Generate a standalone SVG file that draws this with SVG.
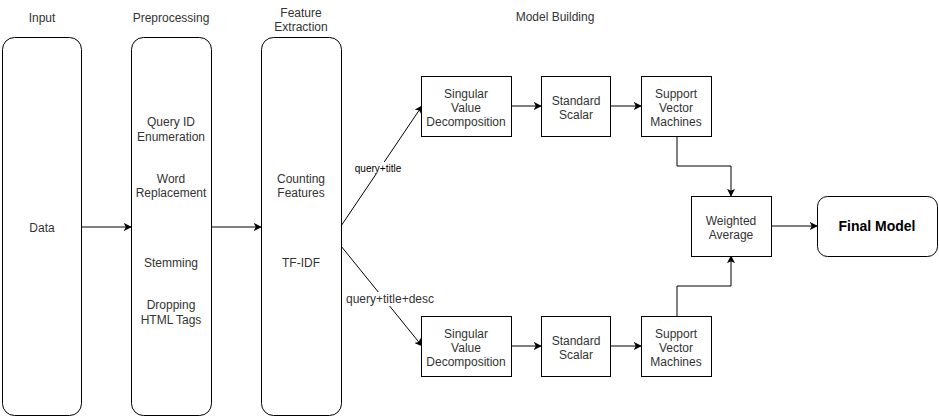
<svg xmlns="http://www.w3.org/2000/svg" width="939" height="418" viewBox="0 0 939 418">
<style>
text{font-family:"Liberation Sans",Arial,sans-serif;font-size:12px;fill:#333;text-anchor:middle}
.box{fill:#fff;stroke:#000;stroke-width:1}
.edge{fill:none;stroke:#000;stroke-width:1}
.lbl{font-size:10px;fill:#000}
.lbl2{font-size:12px;fill:#333}
.bold{font-weight:bold;font-size:14px;fill:#000}
</style>
<defs>
<marker id="arr" viewBox="0 0 10 10" refX="9" refY="5" markerWidth="8" markerHeight="8" markerUnits="userSpaceOnUse" orient="auto">
<path d="M0,0 L10,5 L0,10 L2.5,5 Z" fill="#000"/>
</marker>
</defs>
<rect width="939" height="418" fill="#fff"/>
<g id="headers">
<text x="42" y="22">Input</text>
<text x="171" y="22">Preprocessing</text>
<text x="301" y="17">Feature</text>
<text x="301" y="31">Extraction</text>
<text x="555" y="21">Model Building</text>
</g>
<g id="connectors">
<line class="edge" x1="81" y1="227" x2="131" y2="227" marker-end="url(#arr)"/>
<line class="edge" x1="211" y1="227" x2="261" y2="227" marker-end="url(#arr)"/>
<line class="edge" x1="341" y1="226" x2="422" y2="106" marker-end="url(#arr)"/>
<line class="edge" x1="341" y1="246" x2="422" y2="346" marker-end="url(#arr)"/>
<line class="edge" x1="511" y1="106" x2="541" y2="106" marker-end="url(#arr)"/>
<line class="edge" x1="610" y1="106" x2="641" y2="106" marker-end="url(#arr)"/>
<line class="edge" x1="511" y1="346" x2="541" y2="346" marker-end="url(#arr)"/>
<line class="edge" x1="610" y1="346" x2="641" y2="346" marker-end="url(#arr)"/>
<polyline class="edge" points="677,136 677,166 731,166 731,196" marker-end="url(#arr)"/>
<polyline class="edge" points="677,316 677,286 731,286 731,256" marker-end="url(#arr)"/>
<line class="edge" x1="771" y1="226" x2="817" y2="226" marker-end="url(#arr)"/>
<rect x="355" y="162" width="46" height="12" fill="#fff"/>
<text class="lbl" x="378" y="172">query+title</text>
<rect x="345" y="292" width="90" height="14" fill="#fff"/>
<text class="lbl2" x="390" y="303">query+title+desc</text>
</g>
<g id="input">
<rect class="box" x="2.5" y="37.5" width="79" height="378" rx="12"/>
<text x="42" y="232">Data</text>
</g>
<g id="preprocessing">
<rect class="box" x="131.5" y="37.5" width="80" height="378" rx="12"/>
<text x="171" y="126">Query ID</text>
<text x="171" y="141">Enumeration</text>
<text x="171" y="183">Word</text>
<text x="171" y="197">Replacement</text>
<text x="171" y="267">Stemming</text>
<text x="171" y="309">Dropping</text>
<text x="171" y="324">HTML Tags</text>
</g>
<g id="feature">
<rect class="box" x="261.5" y="37.5" width="80" height="378" rx="12"/>
<text x="301" y="183">Counting</text>
<text x="301" y="197">Features</text>
<text x="301" y="267">TF-IDF</text>
</g>
<g id="svd1">
<rect class="box" x="421.5" y="76.5" width="90" height="60"/>
<text x="466" y="98">Singular</text>
<text x="466" y="112">Value</text>
<text x="466" y="126">Decomposition</text>
</g>
<g id="ss1">
<rect class="box" x="541.5" y="76.5" width="69" height="60"/>
<text x="576" y="105">Standard</text>
<text x="576" y="119">Scalar</text>
</g>
<g id="svm1">
<rect class="box" x="641.5" y="76.5" width="70" height="60"/>
<text x="676" y="98">Support</text>
<text x="676" y="112">Vector</text>
<text x="676" y="126">Machines</text>
</g>
<g id="svd2">
<rect class="box" x="421.5" y="316.5" width="90" height="60"/>
<text x="466" y="338">Singular</text>
<text x="466" y="352">Value</text>
<text x="466" y="366">Decomposition</text>
</g>
<g id="ss2">
<rect class="box" x="541.5" y="316.5" width="69" height="60"/>
<text x="576" y="345">Standard</text>
<text x="576" y="359">Scalar</text>
</g>
<g id="svm2">
<rect class="box" x="641.5" y="316.5" width="70" height="60"/>
<text x="676" y="338">Support</text>
<text x="676" y="352">Vector</text>
<text x="676" y="366">Machines</text>
</g>
<g id="weighted">
<rect class="box" x="691.5" y="196.5" width="80" height="60"/>
<text x="731" y="225">Weighted</text>
<text x="731" y="239">Average</text>
</g>
<g id="final">
<rect class="box" x="817.5" y="196.5" width="120" height="60" rx="10"/>
<text class="bold" x="877" y="231">Final Model</text>
</g>
</svg>
